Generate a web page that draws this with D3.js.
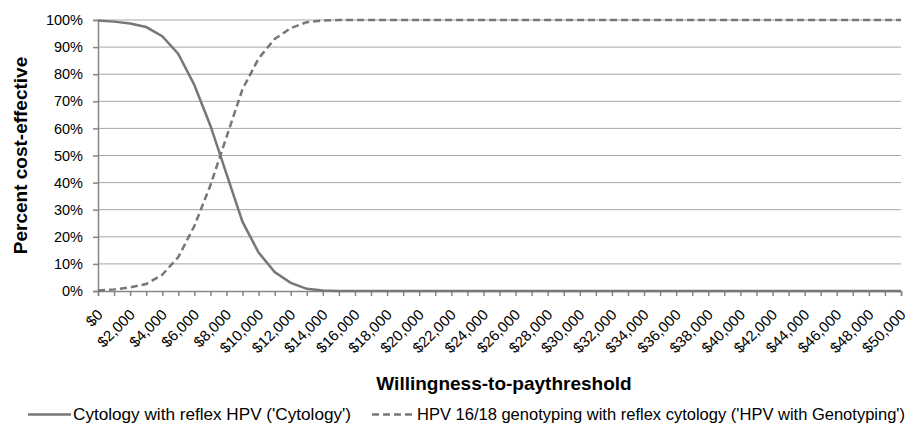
<!DOCTYPE html>
<html>
<head>
<meta charset="utf-8">
<script src="https://cdn.jsdelivr.net/npm/d3@7"></script>
<style>
  body { margin: 0; background: #fff; }
  text { font-family: "Liberation Sans", Arial, sans-serif; }
</style>
</head>
<body>
<div id="chart"></div>
<script>
// willingness-to-pay thresholds, $0 .. $50,000 by $1,000
const thresholds = [
  0, 1000, 2000, 3000, 4000, 5000, 6000, 7000, 8000, 9000,
  10000, 11000, 12000, 13000, 14000, 15000, 16000, 17000, 18000, 19000,
  20000, 21000, 22000, 23000, 24000, 25000, 26000, 27000, 28000, 29000,
  30000, 31000, 32000, 33000, 34000, 35000, 36000, 37000, 38000, 39000,
  40000, 41000, 42000, 43000, 44000, 45000, 46000, 47000, 48000, 49000,
  50000
];

// percent cost-effective
const cytology = [
  99.8, 99.4, 98.7, 97.4, 94, 87.5, 76, 61, 43.2, 25.5,
  14.2, 7, 3, 0.8, 0.2, 0, 0, 0, 0, 0,
  0, 0, 0, 0, 0, 0, 0, 0, 0, 0,
  0, 0, 0, 0, 0, 0, 0, 0, 0, 0,
  0, 0, 0, 0, 0, 0, 0, 0, 0, 0,
  0
];
const hpvGenotyping = [
  0.2, 0.6, 1.3, 2.6, 6, 12.5, 24, 39, 56.8, 74.5,
  85.8, 93, 97, 99.2, 99.8, 100, 100, 100, 100, 100,
  100, 100, 100, 100, 100, 100, 100, 100, 100, 100,
  100, 100, 100, 100, 100, 100, 100, 100, 100, 100,
  100, 100, 100, 100, 100, 100, 100, 100, 100, 100,
  100
];

const yTicks = [0, 10, 20, 30, 40, 50, 60, 70, 80, 90, 100];

const seriesNames = [
  "Cytology with reflex HPV ('Cytology')",
  "HPV 16/18 genotyping with reflex cytology ('HPV with Genotyping')"
];

const width = 921, height = 426;
const margin = { top: 20, right: 20, bottom: 135, left: 98 };

const svg = d3.select("#chart").append("svg")
  .attr("width", width)
  .attr("height", height);

const x = d3.scaleLinear()
  .domain([0, 50000])
  .range([margin.left, width - margin.right]);

const y = d3.scaleLinear()
  .domain([0, 100])
  .range([height - margin.bottom, margin.top]);

const axisColor = "#868686";
const lineColor = "#777777";

// gridlines
svg.append("g")
  .selectAll("line")
  .data(yTicks.filter(d => d > 0))
  .enter().append("line")
  .attr("x1", x(0)).attr("x2", x(50000))
  .attr("y1", d => y(d)).attr("y2", d => y(d))
  .attr("stroke", "#a6a6a6")
  .attr("stroke-width", 1);

// y axis
const yAxis = svg.append("g")
  .attr("transform", `translate(${x(0)},0)`)
  .call(d3.axisLeft(y).tickValues(yTicks).tickFormat(d => d + "%").tickSize(5).tickPadding(10));

yAxis.selectAll("text")
  .style("font-size", "14.5px")
  .style("fill", "#000");

// x axis
const xAxis = svg.append("g")
  .attr("transform", `translate(0,${y(0)})`)
  .call(d3.axisBottom(x).tickValues(thresholds).tickSize(5).tickFormat(""));

svg.selectAll(".domain, .tick line")
  .attr("stroke", axisColor)
  .attr("stroke-width", 1.5);

// rotated x tick labels every $2,000
svg.append("g")
  .selectAll("text")
  .data(thresholds.filter(d => d % 2000 === 0))
  .enter().append("text")
  .attr("transform", d => `translate(${x(d) + 2},${y(0) + 21}) rotate(-45)`)
  .attr("text-anchor", "end")
  .attr("dy", "0.35em")
  .style("font-size", "15px")
  .style("fill", "#000")
  .text(d => d3.format("$,")(d));

// lines
const line = d3.line()
  .x((d, i) => x(thresholds[i]))
  .y(d => y(d));

svg.append("path")
  .datum(cytology)
  .attr("d", line)
  .attr("fill", "none")
  .attr("stroke", lineColor)
  .attr("stroke-width", 2.5);

svg.append("path")
  .datum(hpvGenotyping)
  .attr("d", line)
  .attr("fill", "none")
  .attr("stroke", lineColor)
  .attr("stroke-width", 2.5)
  .attr("stroke-dasharray", "7,4");

// axis titles
svg.append("text")
  .attr("transform", `translate(27,${(y(0) + y(100)) / 2}) rotate(-90)`)
  .attr("text-anchor", "middle")
  .style("font-size", "19px")
  .style("font-weight", "bold")
  .text("Percent cost-effective");

svg.append("text")
  .attr("x", 504)
  .attr("y", 390)
  .attr("text-anchor", "middle")
  .style("font-size", "19px")
  .style("font-weight", "bold")
  .text("Willingness-to-paythreshold");

// legend
const legend = svg.append("g");
const legendItems = [
  { name: seriesNames[0], x: 28, dash: null, len: 278 },
  { name: seriesNames[1], x: 372, dash: "7,4", len: 488 }
];

legendItems.forEach(item => {
  legend.append("line")
    .attr("x1", item.x).attr("x2", item.x + 43)
    .attr("y1", 414.5).attr("y2", 414.5)
    .attr("stroke", lineColor)
    .attr("stroke-width", 2.5)
    .attr("stroke-dasharray", item.dash);
  legend.append("text")
    .attr("x", item.x + 45)
    .attr("y", 420)
    .attr("textLength", item.len)
    .attr("lengthAdjust", "spacingAndGlyphs")
    .style("font-family", "'Liberation Sans Narrow', 'Liberation Sans', Arial, sans-serif")
    .style("font-size", "16px")
    .style("fill", "#000")
    .text(item.name);
});
</script>
</body>
</html>
